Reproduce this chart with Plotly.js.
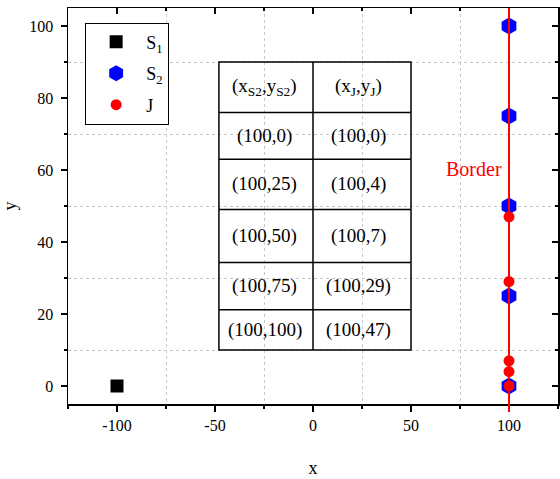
<!DOCTYPE html>
<html>
<head>
<meta charset="utf-8">
<script src="https://cdn.plot.ly/plotly-3.0.1.min.js"></script>
<style>html,body{margin:0;padding:0;background:#fff;}#chart{width:560px;height:479px;}</style>
</head>
<body>
<div id="chart"></div>
<script>
// ---- data ----
const s1X = [-100];
const s1Y = [0];
const s2X = [100, 100, 100, 100, 100];
const s2Y = [0, 25, 50, 75, 100];
const jX = [100, 100, 100, 100, 100];
const jY = [0, 4, 7, 29, 47];
const borderX = 100;
const seriesNames = ['S<sub>1</sub>', 'S<sub>2</sub>', 'J'];
const tableHeader = ['(x<sub>S2</sub>,y<sub>S2</sub>)', '(x<sub>J</sub>,y<sub>J</sub>)'];
const borderLabel = 'Border';
const xTickVals = [-100, -50, 0, 50, 100];
const xTickText = ['-100', '-50', '0', '50', '100'];
const yTickVals = [0, 20, 40, 60, 80, 100];
const yTickText = ['0', '20', '40', '60', '80', '100'];

// ---- layout constants ----
const FONT = 'Liberation Serif, Times New Roman, serif';
const tblX0 = -48, tblX1 = 50, tblXmid = 0;
const tblRowEdges = [90, 76, 63, 49, 34.3, 21.2, 10];
const tblColCenters = [-24.5, 23];

const traces = [
  {x: s1X, y: s1Y, name: seriesNames[0], mode: 'markers', legendgroup: 'a',
   marker: {symbol: 'square', size: 13, color: '#000000'}},
  {x: s2X, y: s2Y, name: seriesNames[1], mode: 'markers', legendgroup: 'b',
   marker: {symbol: 'hexagon', size: 17, color: '#0000ff'}},
  {x: jX, y: jY, name: seriesNames[2], mode: 'markers', legendgroup: 'c',
   marker: {symbol: 'circle', size: 11, color: '#ff0000'}},
  {x: [null], y: [null], xaxis: 'x2', yaxis: 'y2', showlegend: false, hoverinfo: 'skip', mode: 'markers'}
];

const shapes = [];
const annotations = [];
// border line
shapes.push({type: 'line', xref: 'x', yref: 'paper', x0: borderX, x1: borderX, y0: -0.02, y1: 1,
  line: {color: '#ff0000', width: 2}, layer: 'above'});
annotations.push({x: 82, y: 60.2, xref: 'x', yref: 'y', text: borderLabel, showarrow: false,
  font: {family: FONT, size: 20, color: '#ff0000'}});

// table
const lineStyle = {color: '#000', width: 1.5};
shapes.push({type: 'rect', xref: 'x', yref: 'y', x0: tblX0, x1: tblX1, y0: tblRowEdges[tblRowEdges.length-1], y1: tblRowEdges[0], line: lineStyle, fillcolor: 'rgba(0,0,0,0)', layer: 'above'});
shapes.push({type: 'line', xref: 'x', yref: 'y', x0: tblXmid, x1: tblXmid, y0: tblRowEdges[tblRowEdges.length-1], y1: tblRowEdges[0], line: lineStyle, layer: 'above'});
for (let i = 1; i < tblRowEdges.length - 1; i++) {
  shapes.push({type: 'line', xref: 'x', yref: 'y', x0: tblX0, x1: tblX1, y0: tblRowEdges[i], y1: tblRowEdges[i], line: lineStyle, layer: 'above'});
}
const rows = [tableHeader];
for (let i = 0; i < s2Y.length; i++) {
  rows.push([`(${s2X[i]},${s2Y[i]})`, `(${jX[i]},${jY[i]})`]);
}
rows.forEach((r, i) => {
  const yc = (tblRowEdges[i] + tblRowEdges[i+1]) / 2;
  r.forEach((t, j) => {
    annotations.push({x: tblColCenters[j], y: yc, xref: 'x', yref: 'y', text: t, showarrow: false,
      font: {family: FONT, size: 19, color: '#000'}});
  });
});

const axisCommon = {
  showline: true, linecolor: '#000', linewidth: 1.5, zeroline: false, showgrid: false,
  tickcolor: '#000', tickwidth: 1.5, ticklen: 6,
  tickfont: {family: FONT, size: 16, color: '#000'}
};
const gridMinor = {showgrid: true, gridcolor: '#c8c8c8', griddash: 'dot', gridwidth: 1};

const layout = {
  width: 560, height: 479,
  margin: {l: 68, r: 2, t: 8, b: 75},
  paper_bgcolor: '#fff', plot_bgcolor: '#fff',
  font: {family: FONT, color: '#000'},
  showlegend: true,
  legend: {x: 0.035, y: 0.963, xanchor: 'left', yanchor: 'top', bgcolor: '#fff',
    bordercolor: '#000', borderwidth: 1, font: {family: FONT, size: 18, color: '#000'},
    itemwidth: 50, traceorder: 'grouped', tracegroupgap: 5},
  xaxis: Object.assign({}, axisCommon, {
    range: [-125, 125], tickmode: 'array', tickvals: xTickVals, ticktext: xTickText, ticks: 'outside',
    minor: Object.assign({tickmode: 'linear', tick0: 25, dtick: 50, ticks: 'outside', ticklen: 3, tickwidth: 1.5, tickcolor: '#000'}, gridMinor),
    title: {text: 'x', font: {family: FONT, size: 18, color: '#000'}, standoff: 28}
  }),
  yaxis: Object.assign({}, axisCommon, {
    range: [-5, 105], tickmode: 'array', tickvals: yTickVals, ticktext: yTickText, ticks: 'outside', ticklabelstandoff: 4,
    minor: Object.assign({tickmode: 'linear', tick0: 10, dtick: 20, ticks: 'outside', ticklen: 3, tickwidth: 1.5, tickcolor: '#000'}, gridMinor),
    title: {text: 'y', font: {family: FONT, size: 18, color: '#000'}, standoff: 8}
  }),
  xaxis2: Object.assign({}, axisCommon, {
    overlaying: 'x', side: 'top', matches: 'x', range: [-125, 125], tick0: 0, dtick: 50,
    ticks: 'inside', showticklabels: false,
    minor: {dtick: 25, ticks: 'inside', ticklen: 3, tickwidth: 1.5, tickcolor: '#000'}
  }),
  yaxis2: Object.assign({}, axisCommon, {
    overlaying: 'y', side: 'right', matches: 'y', range: [-5, 105], tick0: 0, dtick: 20,
    ticks: 'inside', showticklabels: false,
    minor: {dtick: 10, ticks: 'inside', ticklen: 3, tickwidth: 1.5, tickcolor: '#000'}
  }),
  shapes: shapes,
  annotations: annotations
};

Plotly.newPlot('chart', traces, layout, {displayModeBar: false, staticPlot: true});
</script>
</body>
</html>
